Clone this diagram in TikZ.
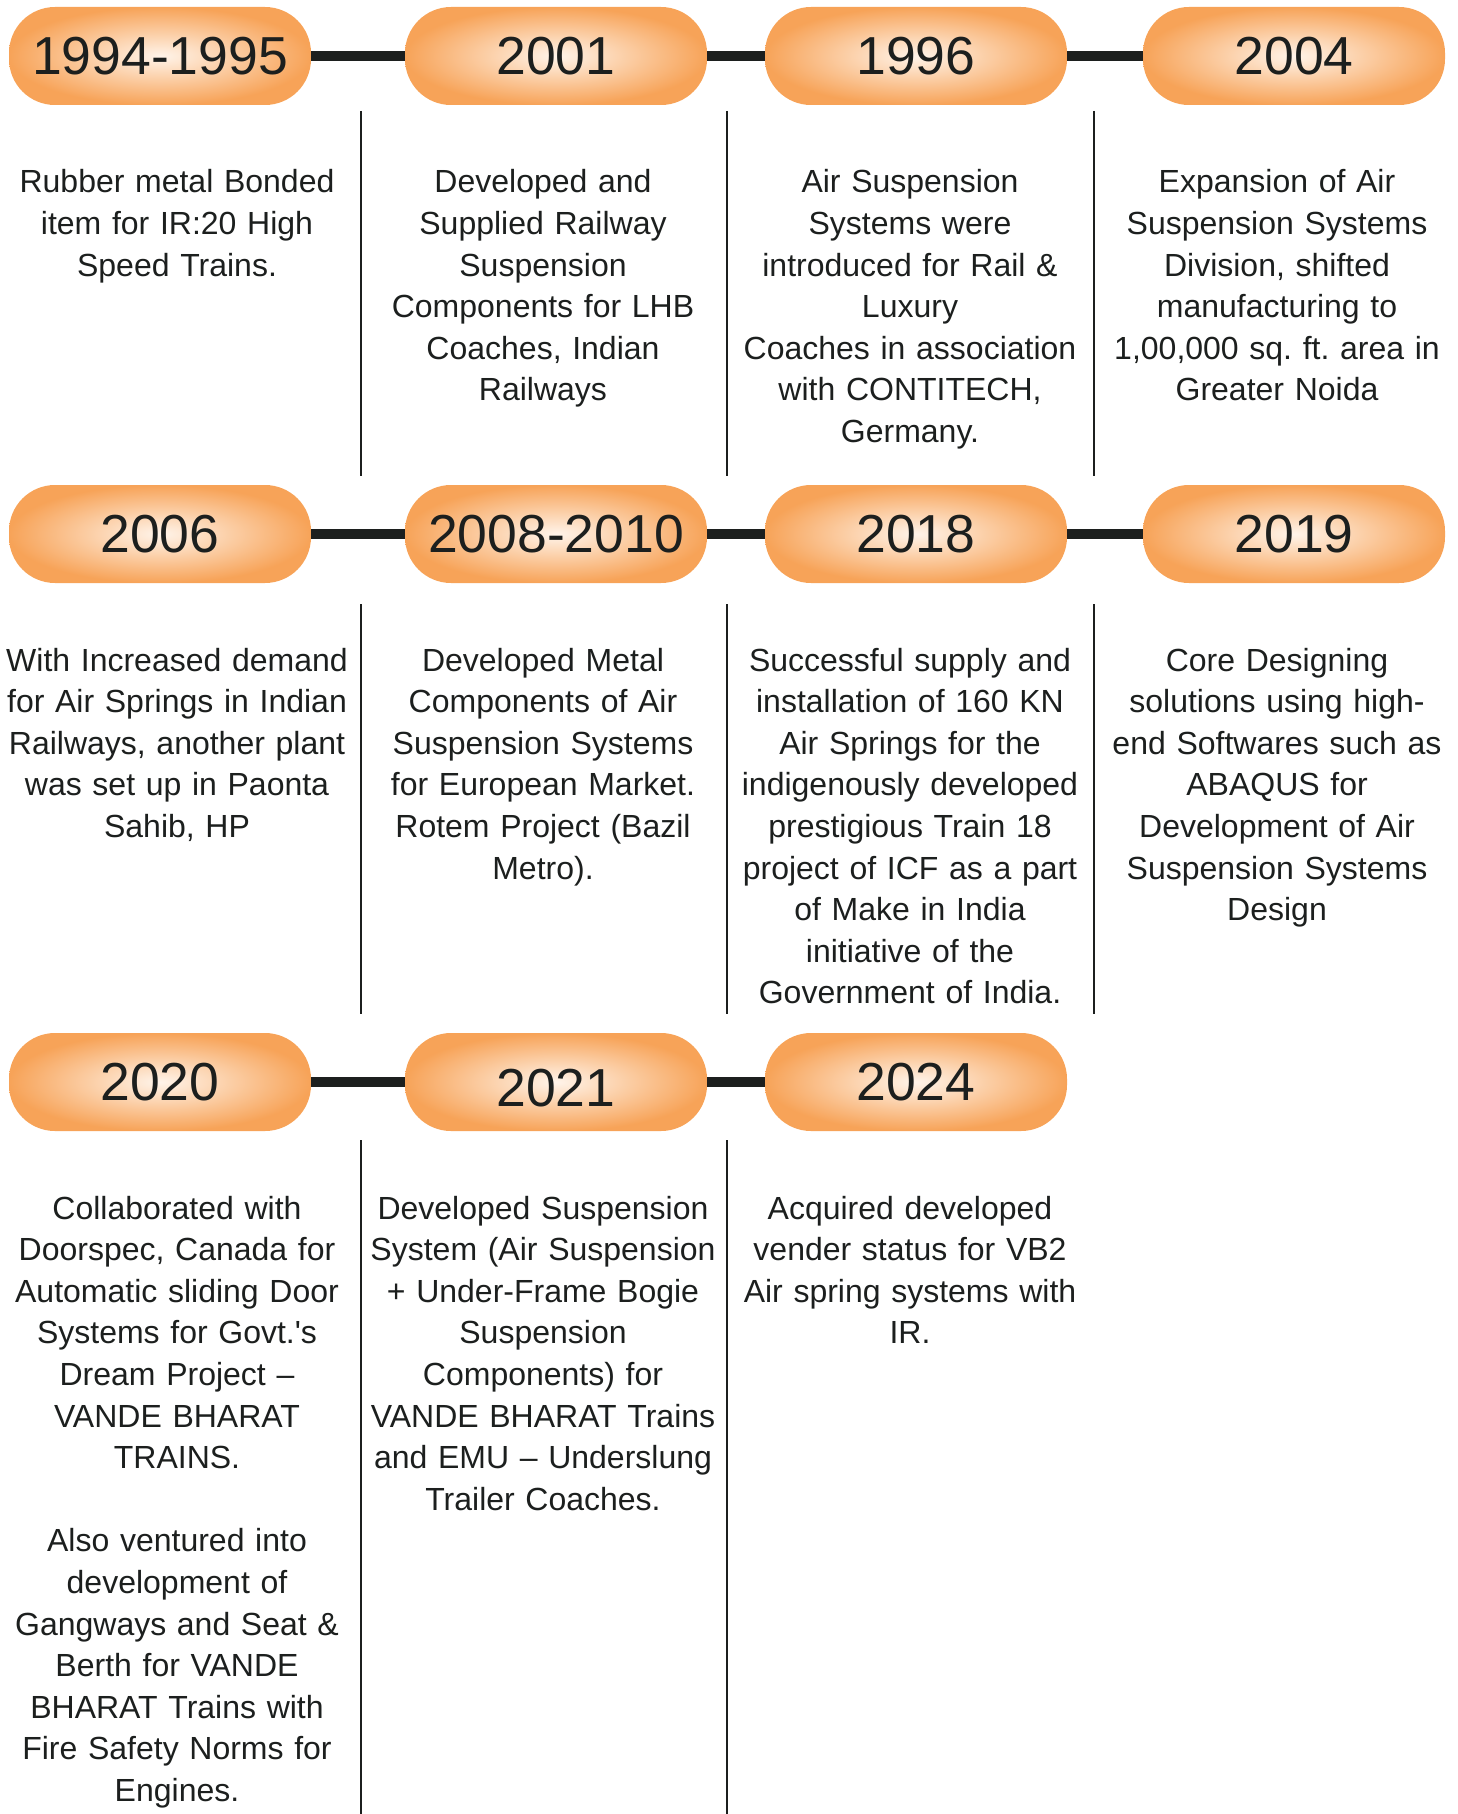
\documentclass[tikz,border=0pt]{standalone}
\usepackage{fontspec}
\setmainfont{Liberation Sans}
\usepackage{tikz}
\frenchspacing

\definecolor{pillorange}{HTML}{F7A358}
\definecolor{pillcore}{HTML}{FFF4EA}
\definecolor{inkdark}{HTML}{1C1F1E}

\begin{document}
\begin{tikzpicture}[x=1pt, y=-1pt,
  pill/.style={rounded corners=46pt, minimum width=302pt, minimum height=98pt,
    inner sep=0pt, inner color=pillcore, outer color=pillorange,
    text=inkdark, font=\fontsize{53.5}{60}\selectfont},
  desc/.style={text width=360pt, align=center, anchor=base, inner sep=0pt,
    text=inkdark, font=\fontsize{32}{41.6}\selectfont},
  link/.style={inkdark, line width=10pt},
  divider/.style={inkdark, line width=1.4pt}]

  \useasboundingbox (0,0) rectangle (1458,1814);

  % Row 1
  \node[pill] (y1994) at (160,56) {1994-1995};
  \node[pill] (y2001) at (556,56) {2001};
  \node[pill] (y1996) at (916,56) {1996};
  \node[pill] (y2004) at (1294,56) {2004};
  \draw[link] (y1994.east) -- (y2001.west);
  \draw[link] (y2001.east) -- (y1996.west);
  \draw[link] (y1996.east) -- (y2004.west);

  \foreach \x in {361,727,1094}
    \draw[divider] (\x,111) -- (\x,476);

  \node[desc] (t1994) at (177,193) {Rubber metal Bonded\\ item for IR:20 High\\ Speed Trains.};
  \node[desc] (t2001) at (543,193) {Developed and\\ Supplied Railway\\ Suspension\\ Components for LHB\\ Coaches, Indian\\ Railways};
  \node[desc] (t1996) at (910,193) {Air Suspension\\ Systems were\\ introduced for Rail \&\\ Luxury\\ Coaches in association\\ with CONTITECH,\\ Germany.};
  \node[desc] (t2004) at (1277,193) {Expansion of Air\\ Suspension Systems\\ Division, shifted\\ manufacturing to\\ 1,00,000 sq. ft. area in\\ Greater Noida};

  % Row 2
  \node[pill] (y2006) at (160,534) {2006};
  \node[pill] (y2008) at (556,534) {2008-2010};
  \node[pill] (y2018) at (916,534) {2018};
  \node[pill] (y2019) at (1294,534) {2019};
  \draw[link] (y2006.east) -- (y2008.west);
  \draw[link] (y2008.east) -- (y2018.west);
  \draw[link] (y2018.east) -- (y2019.west);

  \foreach \x in {361,727,1094}
    \draw[divider] (\x,604) -- (\x,1014);

  \node[desc] (t2006) at (177,671) {With Increased demand\\ for Air Springs in Indian\\ Railways, another plant\\ was set up in Paonta\\ Sahib, HP};
  \node[desc] (t2008) at (543,671) {Developed Metal\\ Components of Air\\ Suspension Systems\\ for European Market.\\ Rotem Project (Bazil\\ Metro).};
  \node[desc] (t2018) at (910,671) {Successful supply and\\ installation of 160 KN\\ Air Springs for the\\ indigenously developed\\ prestigious Train 18\\ project of ICF as a part\\ of Make in India\\ initiative of the\\ Government of India.};
  \node[desc] (t2019) at (1277,671) {Core Designing\\ solutions using high-\\ end Softwares such as\\ ABAQUS for\\ Development of Air\\ Suspension Systems\\ Design};

  % Row 3
  \node[pill] (y2020) at (160,1082) {2020};
  \node[pill, text height=48pt, text depth=0pt] (y2021) at (556,1082) {2021};
  \node[pill] (y2024) at (916,1082) {2024};
  \draw[link] (y2020.east) -- (y2021.west);
  \draw[link] (y2021.east) -- (y2024.west);

  \foreach \x in {361,727}
    \draw[divider] (\x,1140) -- (\x,1814);

  \node[desc] (t2020) at (177,1219) {Collaborated with\\ Doorspec, Canada for\\ Automatic sliding Door\\ Systems for Govt.\textquotesingle s\\ Dream Project --\\ VANDE BHARAT\\ TRAINS.\\[41.6pt] Also ventured into\\ development of\\ Gangways and Seat \&\\ Berth for VANDE\\ BHARAT Trains with\\ Fire Safety Norms for\\ Engines.};
  \node[desc] (t2021) at (543,1219) {Developed Suspension\\ System (Air Suspension\\ + Under-Frame Bogie\\ Suspension\\ Components) for\\ VANDE BHARAT Trains\\ and EMU -- Underslung\\ Trailer Coaches.};
  \node[desc] (t2024) at (910,1219) {Acquired developed\\ vender status for VB2\\ Air spring systems with\\ IR.};

\end{tikzpicture}
\end{document}
